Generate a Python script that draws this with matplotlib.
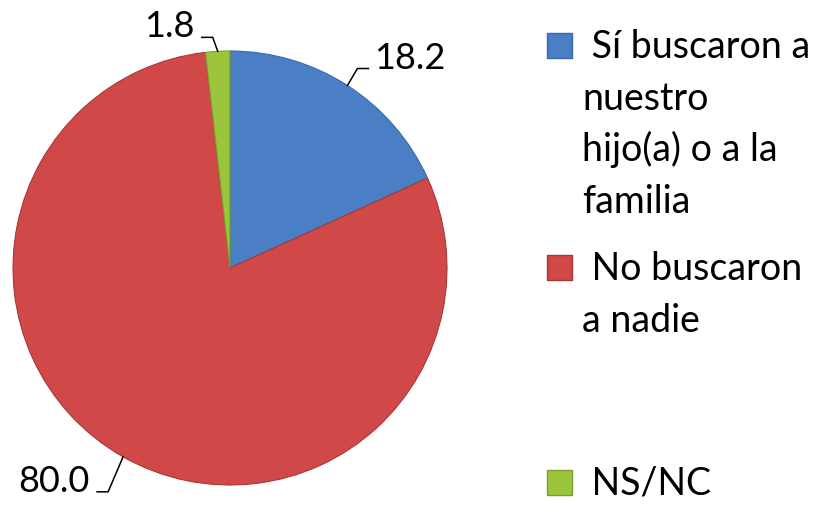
import matplotlib.pyplot as plt
from matplotlib.patches import Rectangle
import numpy as np

# data
labels = ["Sí buscaron a nuestro hijo(a) o a la familia", "No buscaron a nadie", "NS/NC"]
legend_lines = [[" Sí buscaron a", "nuestro", "hijo(a) o a la", "familia"],
                [" No buscaron", "a nadie"],
                [" NS/NC"]]
values = [18.2, 80.0, 1.8]
colors = ["#4a7fc6", "#d04848", "#9bc53d"]
edge_colors = ["#3a6aa8", "#a83838", "#7a9e2c"]

W, H = 823, 505
fig = plt.figure(figsize=(W / 100, H / 100), dpi=100)
plt.rcParams['font.family'] = ['Lato', 'DejaVu Sans']

# pie: centre (230,268) px, radius 217 px
cx, cy, R = 230, 268, 217
ax = fig.add_axes([(cx - R) / W, (H - cy - R) / H, 2 * R / W, 2 * R / H])
wedges, _ = ax.pie(values, colors=colors, startangle=90, counterclock=False)
for w, ec in zip(wedges, edge_colors):
    w.set_edgecolor(ec)
    w.set_linewidth(0.8)
ax.set_xlim(-1, 1)
ax.set_ylim(-1, 1)
ax.axis("off")

# data labels with leader lines (offsets in px)
px = 1.0 / R
leaders = [((10, 17), 11, "left"), ((-15, -35), -11, "right"), ((-5, 14), -11, "right")]
for w, v, (elbow, run, ha) in zip(wedges, values, leaders):
    mid = np.deg2rad((w.theta1 + w.theta2) / 2)
    x0, y0 = np.cos(mid), np.sin(mid)
    x1, y1 = x0 + elbow[0] * px, y0 + elbow[1] * px
    x2 = x1 + run * px
    ax.plot([x0, x1, x2], [y0, y1, y1], color="black", lw=1.1, clip_on=False)
    gap = 6 * px if ha == "left" else -7 * px
    ax.text(x2 + gap, y1, f"{v:.1f}", ha=ha, va="baseline", fontsize=26)

# legend
baselines = [[58, 110, 161, 213], [280, 332], [495]]
for lines, bl, col, ec in zip(legend_lines, baselines, colors, edge_colors):
    top = bl[0] - 25
    fig.patches.append(Rectangle((547 / W, (H - top - 25) / H), 25 / W, 25 / H,
                                 transform=fig.transFigure, facecolor=col,
                                 edgecolor=ec, lw=1.0))
    for line, b in zip(lines, bl):
        fig.text(582 / W, (H - b) / H, line, ha="left", va="baseline", fontsize=27)

fig.savefig("out.png", dpi=100)
